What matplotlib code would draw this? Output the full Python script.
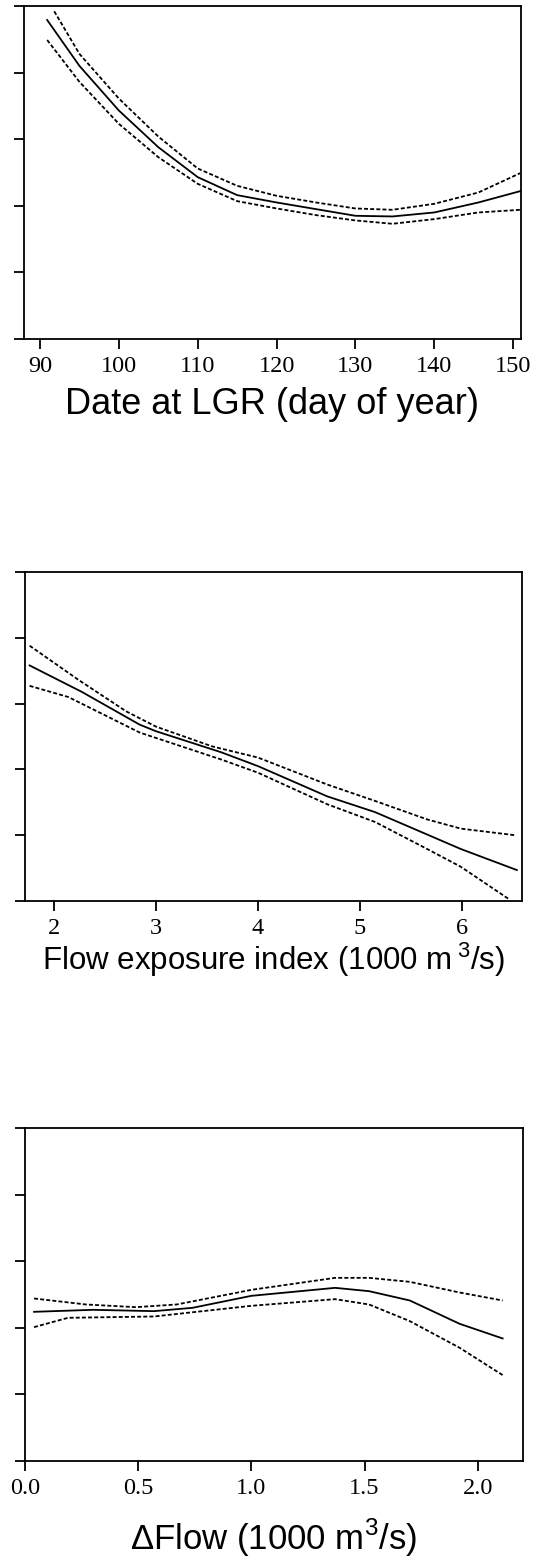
import matplotlib
matplotlib.use('Agg')
import matplotlib.pyplot as plt

# panel 1: date at LGR
day = [90.9, 95, 100, 105, 110, 115, 120, 125, 130, 134.7, 140, 145.6, 150.9]
day_fit = [4.79, 4.10, 3.43, 2.88, 2.43, 2.16, 2.05, 1.95, 1.85, 1.84, 1.90, 2.05, 2.22]
day_up_x = [91.8, 95, 100, 105, 110, 115, 120, 125, 130, 134.7, 140, 145.6, 150.9]
day_up = [4.92, 4.28, 3.61, 3.04, 2.56, 2.30, 2.15, 2.05, 1.96, 1.94, 2.03, 2.20, 2.49]
day_lo = [4.49, 3.86, 3.23, 2.73, 2.33, 2.07, 1.96, 1.86, 1.78, 1.73, 1.80, 1.90, 1.94]

# panel 2: flow exposure index
fei = [1.76, 2.27, 2.84, 3.0, 3.64, 4.0, 4.68, 5.15, 5.69, 5.99, 6.54]
fei_fit = [3.58, 3.18, 2.68, 2.58, 2.26, 2.05, 1.59, 1.35, 0.99, 0.79, 0.47]
fei_up_x = [1.76, 2.24, 2.71, 3.0, 3.55, 4.0, 4.68, 5.15, 5.66, 5.99, 6.52]
fei_up = [3.88, 3.36, 2.88, 2.65, 2.35, 2.18, 1.77, 1.52, 1.24, 1.10, 1.00]
fei_lo_x = [1.76, 2.14, 2.84, 3.64, 4.0, 4.68, 5.15, 5.66, 5.99, 6.46]
fei_lo = [3.27, 3.10, 2.56, 2.15, 1.95, 1.47, 1.20, 0.79, 0.52, 0.03]

# panel 3: delta flow
dflow = [0.04, 0.30, 0.57, 0.74, 1.0, 1.37, 1.52, 1.70, 1.92, 2.11]
dflow_fit = [2.24, 2.27, 2.25, 2.30, 2.48, 2.60, 2.55, 2.41, 2.06, 1.84]
dflow_up_x = [0.04, 0.27, 0.49, 0.67, 1.0, 1.37, 1.52, 1.70, 1.92, 2.11]
dflow_up = [2.44, 2.35, 2.31, 2.35, 2.57, 2.75, 2.75, 2.69, 2.53, 2.41]
dflow_lo_x = [0.04, 0.19, 0.57, 1.0, 1.37, 1.52, 1.70, 1.92, 2.11]
dflow_lo = [2.01, 2.15, 2.17, 2.33, 2.43, 2.35, 2.10, 1.70, 1.29]

plt.rcParams['mathtext.fontset'] = 'custom'
plt.rcParams['mathtext.rm'] = 'Liberation Sans'

fig = plt.figure(figsize=(5.35, 15.63), dpi=100)

W, H = 535.0, 1563.0
# axes boxes in pixels: left, right, top, bottom
boxes = [(23.5, 521, 6, 339), (24.5, 522, 572, 901), (25, 523, 1128, 1461)]
panels = [
    (day, day_fit, day_up_x, day_up, day, day_lo, (87.9, 151.0),
     [90, 100, 110, 120, 130, 140, 150], ['90', '100', '110', '120', '130', '140', '150'],
     'Date at LGR (day of year)', 26, 405),
    (fei, fei_fit, fei_up_x, fei_up, fei_lo_x, fei_lo, (1.71, 6.59),
     [2, 3, 4, 5, 6], ['2', '3', '4', '5', '6'],
     'Flow exposure index (1000 m$\\,^{3}$/s)', 22.5, 960),
    (dflow, dflow_fit, dflow_up_x, dflow_up, dflow_lo_x, dflow_lo, (0.0, 2.2),
     [0.0, 0.5, 1.0, 1.5, 2.0], ['0.0', '0.5', '1.0', '1.5', '2.0'],
     '\u0394Flow (1000 m$^{3}$/s)', 25, 1538),
]

dash = (0, (2.2, 1.2))
for (l, r, t, b), p in zip(boxes, panels):
    x, fit, ux, up, lx, lo, xlim, xt, xtl, label, lsize, ly = p
    ax = fig.add_axes([l / W, 1 - b / H, (r - l) / W, (b - t) / H])
    ax.plot(x, fit, color='black', lw=1.3)
    ax.plot(ux, up, color='black', lw=1.3, ls=dash)
    ax.plot(lx, lo, color='black', lw=1.3, ls=dash)
    ax.set_xlim(xlim)
    ax.set_ylim(0, 5)
    ax.set_yticks([0, 1, 2, 3, 4, 5])
    ax.set_yticklabels([])
    ax.set_xticks(xt)
    ax.set_xticklabels(xtl, fontfamily='Liberation Serif', fontsize=17.5)
    ax.tick_params(direction='out', length=7, width=1.3, pad=5)
    for s in ax.spines.values():
        s.set_linewidth(1.3)
    ax.set_xlabel(label, fontfamily='Liberation Sans', fontsize=lsize)
    ax.xaxis.label.set_va('center')
    ax.xaxis.set_label_coords(0.5, -(ly - b) / (b - t))

fig.savefig('out.png', dpi=100)
